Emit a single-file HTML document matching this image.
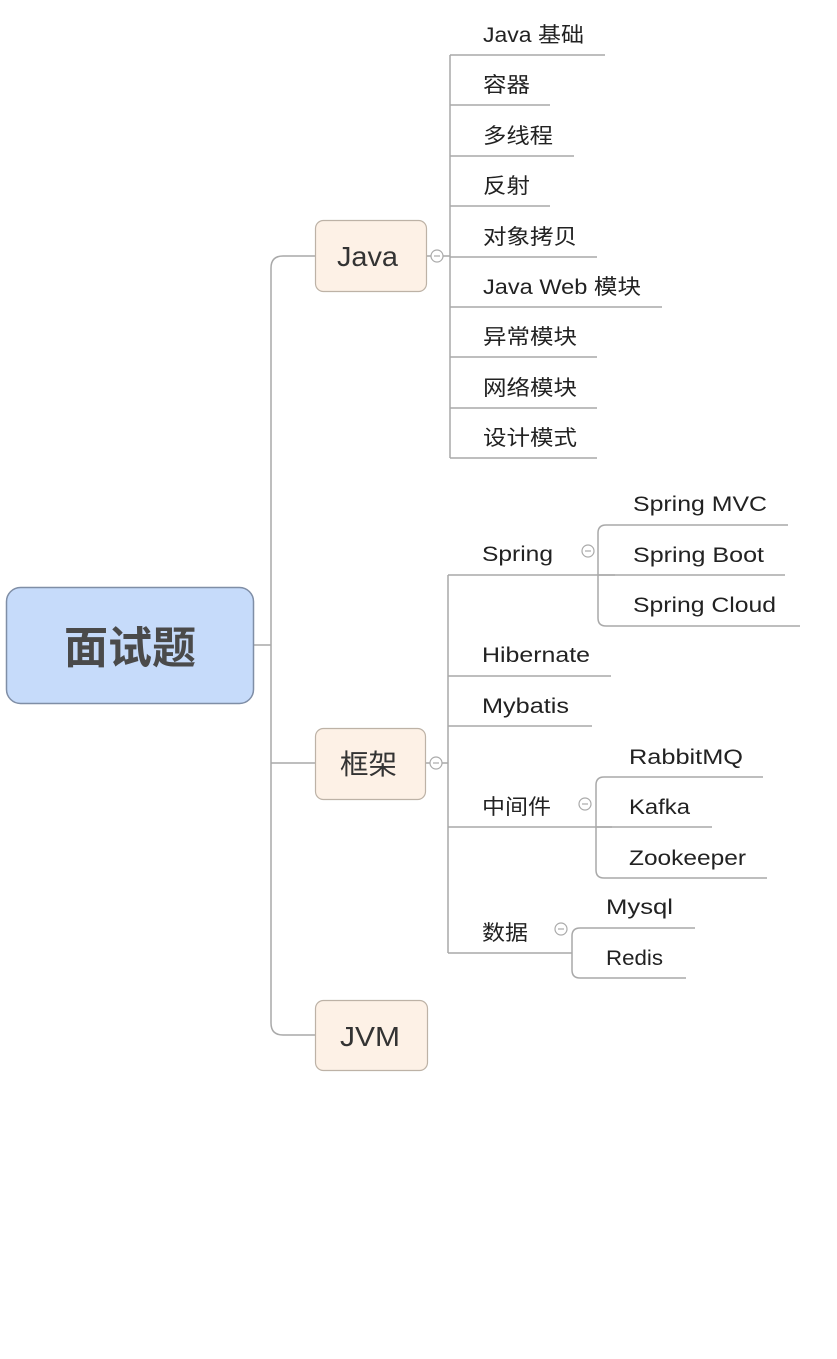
<!DOCTYPE html>
<html><head><meta charset="utf-8"><style>
html,body{margin:0;padding:0;background:#fff;}
svg{display:block;}
text{font-family:"Liberation Sans","Noto Sans CJK SC",sans-serif;fill:#222;font-size:21px;}
</style></head><body>
<svg width="837" height="1359" viewBox="0 0 837 1359" xmlns="http://www.w3.org/2000/svg">
<g fill="none" stroke="#a9a9a9" stroke-width="1.5">
<path d="M254 645 H271"/>
<path d="M315 256 H283 Q271 256 271 268 V1023 Q271 1035 283 1035 H315"/>
<path d="M271 763 H315"/>
<path d="M427 256 H431"/><path d="M443 256 H450"/>
<path d="M450 55 V458"/>
<path d="M450 55 H605"/><path d="M450 105 H550"/><path d="M450 156 H574"/><path d="M450 206 H550"/>
<path d="M450 257 H597"/><path d="M450 307 H662"/><path d="M450 357 H597"/><path d="M450 408 H597"/><path d="M450 458 H597"/>
<path d="M426 763 H430"/><path d="M442 763 H448"/>
<path d="M448 575 V953"/>
<path d="M448 575 H615"/><path d="M448 676 H611"/><path d="M448 726 H592"/><path d="M448 827 H612"/><path d="M448 953 H572"/>
<path d="M788 525 H606 Q598 525 598 533 V618 Q598 626 606 626 H800"/>
<path d="M598 575 H785"/>
<path d="M763 777 H604 Q596 777 596 785 V870 Q596 878 604 878 H767"/>
<path d="M596 827 H712"/>
<path d="M695 928 H580 Q572 928 572 936 V970 Q572 978 580 978 H686"/>
</g>
<g fill="#fff" stroke="#aaa" stroke-width="1.2">
<circle cx="437" cy="256" r="6"/><circle cx="436" cy="763" r="6"/>
<circle cx="588" cy="551" r="6"/><circle cx="585" cy="804" r="6"/><circle cx="561" cy="929" r="6"/>
</g>
<g stroke="#aaa" stroke-width="1.2">
<path d="M434 256 H440"/><path d="M433 763 H439"/><path d="M585 551 H591"/><path d="M582 804 H588"/><path d="M558 929 H564"/>
</g>
<rect x="6.5" y="587.5" width="247" height="116" rx="14" fill="#c6dbfa" stroke="#7f8ea6" stroke-width="1.5"/>
<text x="130" y="663" text-anchor="middle" style="font-size:44px;font-weight:bold;fill:#4a4a4a">面试题</text>
<rect x="315.5" y="220.5" width="111" height="71" rx="8" fill="#fdf1e6" stroke="#bdb2a6" stroke-width="1.2"/>
<text x="337" y="266" textLength="61" lengthAdjust="spacingAndGlyphs" style="font-size:28px;fill:#333">Java</text>
<rect x="315.5" y="728.5" width="110" height="71" rx="8" fill="#fdf1e6" stroke="#bdb2a6" stroke-width="1.2"/>
<text x="340" y="774" textLength="57" lengthAdjust="spacingAndGlyphs" style="font-size:28px;fill:#333">框架</text>
<rect x="315.5" y="1000.5" width="112" height="70" rx="8" fill="#fdf1e6" stroke="#bdb2a6" stroke-width="1.2"/>
<text x="340" y="1046" textLength="60" lengthAdjust="spacingAndGlyphs" style="font-size:28px;fill:#333">JVM</text>
<g style="" >
<text x="483" y="42" textLength="101" lengthAdjust="spacingAndGlyphs">Java 基础</text>
<text x="483" y="92" textLength="47" lengthAdjust="spacingAndGlyphs">容器</text>
<text x="483" y="143" textLength="70" lengthAdjust="spacingAndGlyphs">多线程</text>
<text x="483" y="193" textLength="47" lengthAdjust="spacingAndGlyphs">反射</text>
<text x="483" y="244" textLength="94" lengthAdjust="spacingAndGlyphs">对象拷贝</text>
<text x="483" y="294" textLength="158" lengthAdjust="spacingAndGlyphs">Java Web 模块</text>
<text x="483" y="344" textLength="94" lengthAdjust="spacingAndGlyphs">异常模块</text>
<text x="483" y="395" textLength="94" lengthAdjust="spacingAndGlyphs">网络模块</text>
<text x="483" y="445" textLength="94" lengthAdjust="spacingAndGlyphs">设计模式</text>
<text x="482" y="561" textLength="71" lengthAdjust="spacingAndGlyphs">Spring</text>
<text x="482" y="662" textLength="108" lengthAdjust="spacingAndGlyphs">Hibernate</text>
<text x="482" y="713" textLength="87" lengthAdjust="spacingAndGlyphs">Mybatis</text>
<text x="482" y="814" textLength="69" lengthAdjust="spacingAndGlyphs">中间件</text>
<text x="482" y="940" textLength="46" lengthAdjust="spacingAndGlyphs">数据</text>
<text x="633" y="511" textLength="134" lengthAdjust="spacingAndGlyphs">Spring MVC</text>
<text x="633" y="562" textLength="131" lengthAdjust="spacingAndGlyphs">Spring Boot</text>
<text x="633" y="612" textLength="143" lengthAdjust="spacingAndGlyphs">Spring Cloud</text>
<text x="629" y="764" textLength="114" lengthAdjust="spacingAndGlyphs">RabbitMQ</text>
<text x="629" y="814" textLength="61" lengthAdjust="spacingAndGlyphs">Kafka</text>
<text x="629" y="865" textLength="117" lengthAdjust="spacingAndGlyphs">Zookeeper</text>
<text x="606" y="914" textLength="67" lengthAdjust="spacingAndGlyphs">Mysql</text>
<text x="606" y="965" textLength="57" lengthAdjust="spacingAndGlyphs">Redis</text>
</g>
</svg>
</body></html>
